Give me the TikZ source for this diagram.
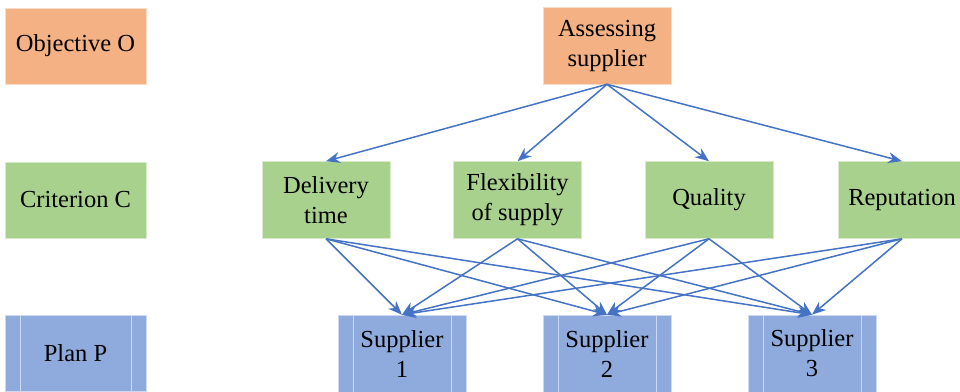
\documentclass[tikz,border=0pt]{standalone}
\usepackage{fontspec}
\setmainfont{Liberation Serif}
\usetikzlibrary{arrows.meta,positioning}
\definecolor{objorange}{HTML}{F4B183}
\definecolor{critgreen}{HTML}{A9D18E}
\definecolor{planblue}{HTML}{8FAADC}
\definecolor{linkblue}{HTML}{4472C4}

\begin{document}
\begin{tikzpicture}[x=1pt,y=-1pt]
  \tikzset{
    >={Stealth[length=14pt,width=11pt]},
    box/.style={rectangle, draw=white!55!#1, line width=0.6pt, fill=#1,
          minimum width=128pt, minimum height=77pt, inner sep=0pt,
          align=center, font=\fontsize{24.5}{30}\selectfont},
    label/.style={box=#1, minimum width=141pt, minimum height=76pt},
    procbox/.style={box=planblue, path picture={
        \draw[white!55!planblue, line width=0.6pt]
          ([xshift=15pt]path picture bounding box.north west) --
          ([xshift=15pt]path picture bounding box.south west)
          ([xshift=-15pt]path picture bounding box.north east) --
          ([xshift=-15pt]path picture bounding box.south east);}},
    link/.style={->, draw=linkblue, line width=1.5pt}
  }
  \useasboundingbox (0,0) rectangle (960,391);

  % level labels
  \node[label=objorange] (obj) at (75.5,46) {Objective O};
  \node[label=critgreen] (crit) at (75.5,200) {Criterion C};
  \node[label=planblue, procbox, minimum width=141pt, minimum height=76pt]
       (plan) at (75.5,353) {Plan P};

  % objective
  \node[box=objorange] (assess) at (607,45.5) {Assessing\\supplier};

  % criteria
  \node[box=critgreen] (deliv) at (326,200) {Delivery\\time};
  \node[box=critgreen] (flex) at (517.5,200) {Flexibility\\of supply};
  \node[box=critgreen] (qual) at (709,200) {Quality};
  \node[box=critgreen] (repu) at (902,200) {Reputation};

  % plans
  \node[procbox] (sup1) at (402,353.5) {Supplier\\1};
  \node[procbox] (sup2) at (607,353.5) {Supplier\\2};
  \node[procbox] (sup3) at (812,353.5) {Supplier\\3};

  \foreach \c in {deliv,flex,qual,repu}
    \draw[link] (assess.south) -- (\c.north);

  \foreach \c in {deliv,flex,qual,repu}
    \foreach \s in {sup1,sup2,sup3}
      \draw[link] (\c.south) -- (\s.north);
\end{tikzpicture}
\end{document}
